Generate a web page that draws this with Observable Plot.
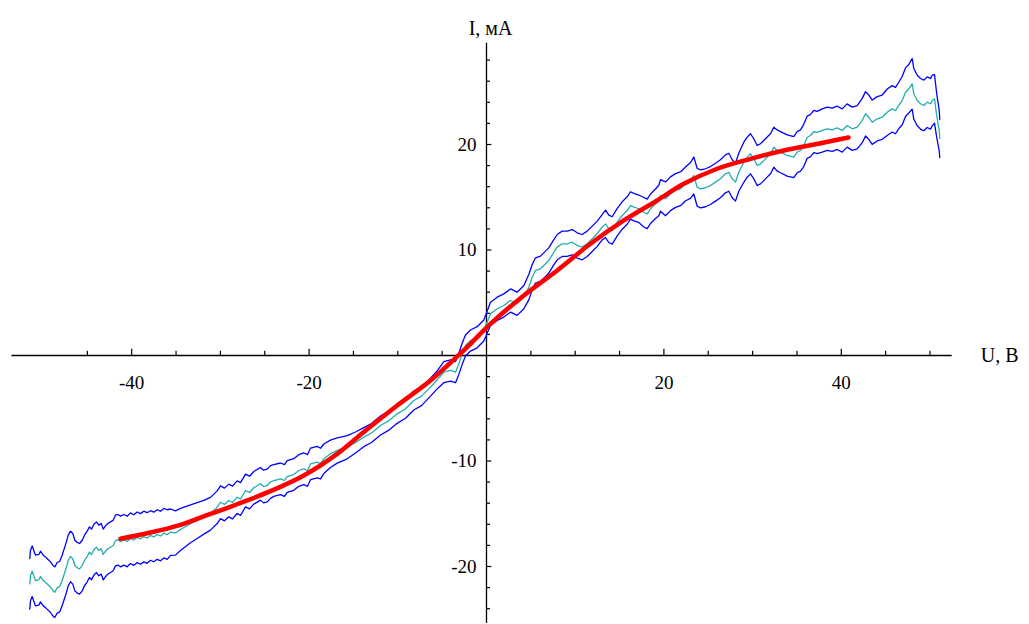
<!DOCTYPE html>
<html><head><meta charset="utf-8">
<script src="https://cdn.jsdelivr.net/npm/d3@7"></script>
<script src="https://cdn.jsdelivr.net/npm/@observablehq/plot@0.6"></script>
<style>html,body{margin:0;padding:0;background:#fff;overflow:hidden}</style>
</head><body><div id="chart"></div>
<script>
// Measured mean current (cyan) vs voltage
const voltage = [
-51.49,-51.41,-51.22,-50.85,-50.47,-50.28,-49.98,-49.72,-49.46,-49.15,
-48.90,-48.67,-48.40,-48.11,-47.84,-47.66,-47.38,-47.16,-46.90,-46.64,
-46.41,-46.14,-45.88,-45.58,-45.32,-45.02,-44.76,-44.53,-44.27,-43.97,
-43.71,-43.44,-43.21,-42.95,-42.69,-42.39,-42.09,-41.83,-41.57,-41.26,
-40.89,-40.51,-40.14,-39.76,-39.38,-39.01,-38.64,-38.26,-37.88,-37.51,
-37.13,-36.75,-36.38,-36.00,-35.63,-35.06,-34.50,
-33.37,-32.62,-31.87,-31.12,-30.36,-29.99,-29.54,-29.05,-28.64,-28.11,
-27.73,-27.17,-26.72,-26.23,-25.48,-25.14,-24.72,-24.35,-23.98,-23.22,
-22.77,-22.47,-21.73,-21.16,-20.60,-20.18,-19.84,-19.09,-18.71,-18.34,
-17.59,-16.83,
-15.70,-14.77,-13.83,-12.97,-11.95,-11.05,-10.07,-9.13,-8.20,-7.33,
-6.31,-5.52,-4.81,-4.06,-3.49,-3.12,-2.74,-2.37,-1.80,-1.05,
-0.30,0.45,1.21,
1.95,2.71,3.46,4.21,4.77,5.15,5.52,6.09,6.46,7.02,
7.59,7.97,8.53,9.10,9.66,10.23,10.79,11.35,11.92,12.48,
13.04,13.42,13.79,14.17,14.74,15.30,15.86,16.23,16.61,17.17,
17.73,18.12,18.49,19.05,19.43,
19.62,20.18,20.74,21.31,21.87,22.44,23.00,23.37,23.75,24.13,
24.69,25.25,25.82,26.38,26.94,27.32,27.70,28.07,28.44,29.01,
29.39,29.76,30.14,30.52,30.89,31.45,32.02,32.39,32.77,33.15,
33.90,34.64,35.03,35.40,35.77,36.16,36.53,36.90,37.28,
37.85,38.41,38.97,39.54,40.10,40.66,41.23,41.79,42.36,42.73,
43.10,43.48,44.05,44.61,45.17,45.74,46.11,46.48,46.87,47.24,
47.61,47.99,48.17,48.56,48.93,49.30,49.68,50.06,50.25,50.51,
50.73,50.88,51.04,51.10
];
const current = [
-21.64,-20.85,-20.45,-21.33,-21.26,-20.95,-21.33,-21.49,-21.71,-21.96,
-22.27,-22.44,-22.02,-21.90,-21.33,-20.85,-20.12,-19.43,-19.05,-19.27,
-19.91,-20.12,-20.22,-19.91,-19.43,-19.05,-18.64,-18.86,-18.42,-18.17,
-18.48,-18.32,-18.86,-18.55,-18.32,-18.17,-18.01,-17.54,-17.47,-17.63,
-17.47,-17.63,-17.32,-17.49,-17.23,-17.39,-17.16,-17.30,-17.06,-17.20,
-16.97,-17.11,-16.84,-16.97,-16.75,-16.82,-16.49,
-15.95,-15.64,-15.33,-15.00,-14.38,-13.91,-14.12,-13.74,-13.93,-13.43,
-13.60,-12.80,-12.99,-12.54,-12.16,-12.42,-12.32,-11.99,-11.85,-11.69,
-11.85,-11.47,-11.28,-10.90,-10.74,-10.90,-10.27,-10.11,-10.24,-9.79,
-9.32,-9.00,
-8.69,-8.25,-7.74,-7.35,-6.64,-6.20,-5.53,-5.05,-4.27,-3.85,
-3.00,-2.27,-1.58,-1.42,-1.58,-0.79,0.16,0.95,1.42,1.73,
2.37,3.95,4.43,
4.74,5.21,4.90,5.53,6.47,7.42,8.06,8.22,8.53,9.00,
9.79,10.27,10.59,10.59,10.74,10.43,10.27,10.59,11.06,11.54,
12.16,12.48,12.01,11.85,12.64,13.27,13.74,14.22,14.06,13.91,
13.58,13.43,13.91,14.38,14.69,
15.17,14.85,15.33,15.64,15.80,16.27,16.59,17.06,15.95,15.80,
15.90,16.11,16.43,16.75,17.22,17.37,16.75,16.43,17.37,18.32,
18.80,19.12,18.64,18.01,18.17,18.64,19.12,19.74,19.43,19.27,
18.96,18.80,19.27,19.43,19.91,20.69,20.85,21.23,21.14,
21.33,21.49,21.39,21.58,21.33,21.80,21.49,21.64,22.27,22.91,
22.59,22.11,22.44,22.59,23.06,23.38,23.22,23.70,24.17,24.96,
25.28,25.75,24.81,24.17,23.86,23.70,24.01,23.86,24.17,24.33,
22.91,22.11,21.33,20.57
];
// half-width of the blue band around the mean, read at the same voltages
const spread = [
2.4,2.4,2.4,2.4,2.4,2.4,2.4,2.4,2.4,2.4,
2.4,2.4,2.4,2.4,2.4,2.4,2.4,2.4,2.4,2.4,
2.4,2.4,2.4,2.4,2.4,2.4,2.4,2.4,2.4,2.4,
2.4,2.4,2.4,2.4,2.4,2.4,2.4,2.4,2.4,2.4,
2.4,2.4,2.4,2.4,2.4,2.4,2.4,2.4,2.35,2.35,
2.35,2.35,2.35,2.35,2.2,2.1,2.0,
1.8,1.7,1.6,1.55,1.55,1.55,1.55,1.55,1.55,1.55,
1.55,1.55,1.55,1.55,1.55,1.55,1.55,1.55,1.5,1.5,
1.5,1.5,1.5,1.5,1.5,1.5,1.5,1.5,1.45,1.4,
1.3,1.2,
1.1,1.0,0.9,0.9,0.9,0.9,0.9,0.9,0.9,0.9,
0.85,0.85,1.0,1.0,1.0,1.0,1.0,1.0,1.0,1.0,
1.0,1.1,1.1,
1.1,1.1,1.1,1.1,1.2,1.2,1.2,1.2,1.2,1.2,
1.2,1.2,1.2,1.2,1.2,1.2,1.2,1.2,1.2,1.2,
1.2,1.3,1.3,1.3,1.3,1.3,1.3,1.3,1.3,1.3,
1.4,1.4,1.4,1.4,1.45,
1.5,1.6,1.6,1.6,1.6,1.6,1.7,1.75,1.8,1.8,
1.8,1.8,1.8,1.8,1.8,1.8,1.8,1.8,1.8,1.9,
1.9,1.9,1.9,1.9,1.9,1.9,1.9,1.9,1.95,1.95,
1.95,1.95,1.95,1.95,2.0,2.0,2.0,2.0,2.0,
2.05,2.05,2.05,2.05,2.05,2.05,2.05,2.05,2.1,2.1,
2.1,2.1,2.1,2.1,2.2,2.2,2.2,2.2,2.3,2.3,
2.3,2.4,2.4,2.4,2.4,2.4,2.4,2.4,2.4,2.3,
2.1,2.0,1.9,1.8
];
// Smooth fitted curve (red)
const fitU = [-41.26,-37.88,-34.50,-31.87,-28.11,-24.35,-20.60,-16.83,-13.83,-10.07,-6.31,-3.69,-1.80,0.45,4.21,7.97,11.72,15.48,19.24,22.24,26.01,29.76,33.52,37.66,40.81];
const fitI = [-17.37,-16.78,-16.05,-15.25,-14.10,-12.86,-11.37,-9.32,-7.25,-4.74,-2.37,-0.40,1.11,3.00,5.69,8.06,10.59,12.80,14.69,16.27,17.70,18.64,19.43,20.12,20.66];

// Axes
const xTicks = [-45,-40,-35,-30,-25,-20,-15,-10,-5,5,10,15,20,25,30,35,40,45,50];
const xLabels = [-40,-20,20,40];
const yTicks = [-24,-22,-20,-18,-16,-14,-12,-10,-8,-6,-4,-2,2,4,6,8,10,12,14,16,18,20,22,24,26,28];
const yLabels = [-20,-10,10,20];
const xAxisExtent = [-53.5, 52.5];
const yAxisExtent = [-25.4, 29.6];
const xTitle = "U, В";
const yTitle = "I, мА";

const rows = voltage.map((u, i) => ({u, I: current[i], hi: current[i] + spread[i], lo: current[i] - spread[i]}));
const fit = fitU.map((u, i) => ({u, I: fitI[i]}));

const W = 1029, H = 624;
const originX = 486, originY = 355, pxPerU = 8.87, pxPerI = 10.55;
const font = '"Liberation Serif", "Times New Roman", serif';

const chart = Plot.plot({
  width: W, height: H, margin: 0,
  style: {fontFamily: font, background: "#fff"},
  x: {domain: [-originX / pxPerU, (W - originX) / pxPerU], axis: null},
  y: {domain: [-(H - originY) / pxPerI, originY / pxPerI], axis: null},
  marks: [
    Plot.ruleY([0], {x1: xAxisExtent[0], x2: xAxisExtent[1], stroke: "#000", strokeWidth: 1.3}),
    Plot.ruleX([0], {y1: yAxisExtent[0], y2: yAxisExtent[1], stroke: "#000", strokeWidth: 1.3}),
    Plot.ruleX(xTicks, {x: d => d, y1: 0, y2: d => xLabels.includes(d) ? 0.6 : 0.4, stroke: "#000", strokeWidth: 1.2}),
    Plot.ruleY(yTicks, {y: d => d, x1: 0, x2: d => yLabels.includes(d) ? 0.6 : 0.45, stroke: "#000", strokeWidth: 1.2}),
    Plot.text(xLabels, {x: d => d, y: () => 0, dy: 27, text: d => String(d), fontSize: 19, fill: "#000"}),
    Plot.text(yLabels, {x: () => 0, y: d => d, dx: -10, textAnchor: "end", text: d => String(d), fontSize: 19, fill: "#000"}),
    Plot.text([xTitle], {y: () => 0, frameAnchor: "right", textAnchor: "end", dx: -11, text: d => d, fontSize: 20, fill: "#000"}),
    Plot.text([yTitle], {x: () => 0, frameAnchor: "top", dy: 20, dx: 4, text: d => d, fontSize: 20, fill: "#000"}),
    Plot.line(rows, {x: "u", y: "hi", stroke: "#0000ff", strokeWidth: 1.3}),
    Plot.line(rows, {x: "u", y: "lo", stroke: "#0000ff", strokeWidth: 1.3}),
    Plot.line(rows, {x: "u", y: "I", stroke: "#22aeae", strokeWidth: 1.3}),
    Plot.line(fit, {x: "u", y: "I", stroke: "#ff0000", strokeWidth: 4.5, curve: "catmull-rom"})
  ]
});
document.getElementById("chart").append(chart);
</script>
</body></html>
